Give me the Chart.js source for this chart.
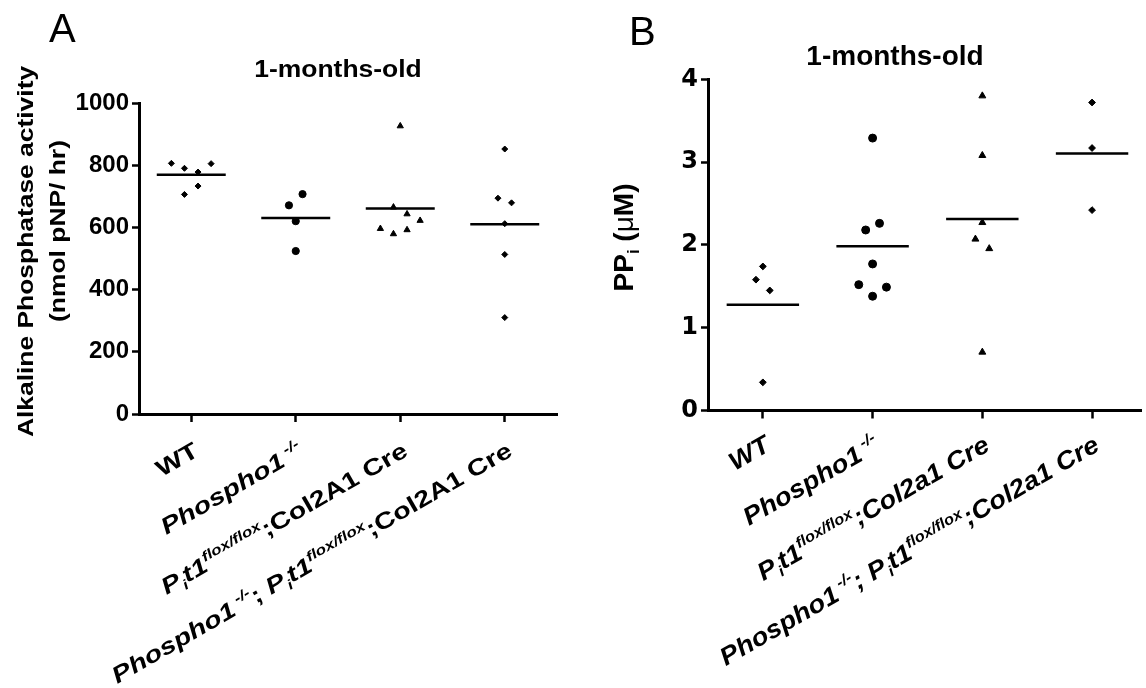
<!DOCTYPE html>
<html>
<head>
<meta charset="utf-8">
<title>1-months-old</title>
<script src="https://cdn.jsdelivr.net/npm/chart.js"></script>
<style>
    body {
        margin: 0;
        background: #fff;
        overflow: hidden;
    }
    .panel {
        position: absolute;
        top: 0;
        width: 573px;
        height: 688px;
    }
    #panelA { left: 0; }
    #panelB { left: 573px; }
</style>
</head>
<body>
<div class="panel" id="panelA"><canvas id="chartA" width="573" height="688"></canvas></div>
<div class="panel" id="panelB"><canvas id="chartB" width="573" height="688"></canvas></div>
<script>
    // marker per genotype, same order in both panels
    var groupStyles = ['rectRot', 'circle', 'triangle', 'rectRot'];

    // A: alkaline phosphatase activity (nmol pNP/ hr)
    var alpWT       = [806, 790, 778, 805, 706, 733];
    var alpPhospho1 = [707, 671, 620, 524];
    var alpPit1     = [926, 665, 643, 622, 596, 579, 592];
    var alpDouble   = [852, 694, 679, 612, 513, 310];
    // sideways spread of the dots inside a column (category units)
    var alpJitter = [
        [-0.19, -0.065, 0.065, 0.19, -0.065, 0.065],
        [0.065, -0.065, 0, 0],
        [0, -0.065, 0.065, 0.19, -0.19, -0.065, 0.065],
        [0, -0.065, 0.065, 0, 0, 0]
    ];

    // B: PPi (uM)
    var ppiWT       = [1.74, 1.58, 1.45, 0.34];
    var ppiPhospho1 = [3.29, 2.18, 2.26, 1.77, 1.52, 1.49, 1.38];
    var ppiPit1     = [3.80, 3.08, 2.27, 2.07, 1.955, 0.705];
    var ppiDouble   = [3.72, 3.17, 2.42];
    var ppiJitter = [
        [0, -0.063, 0.063, 0],
        [0, -0.063, 0.063, 0, -0.126, 0.126, 0],
        [0, 0, 0, -0.063, 0.063, 0],
        [0, 0, 0]
    ];

    // x tick labels (rich text pieces: i = italic, sup / sub)
    var labelsA = [
        [{t: 'WT'}],
        [{t: 'Phospho1', i: 1}, {t: ' -/-', sup: 1, i: 1}],
        [{t: 'P', i: 1}, {t: 'i', sub: 1, i: 1}, {t: 't1', i: 1}, {t: 'flox/flox', sup: 1, i: 1}, {t: ';Col2A1 Cre'}],
        [{t: 'Phospho1', i: 1}, {t: ' -/-', sup: 1, i: 1}, {t: '; '}, {t: 'P', i: 1}, {t: 'i', sub: 1, i: 1},
         {t: 't1', i: 1}, {t: 'flox/flox', sup: 1, i: 1}, {t: ';Col2A1 Cre'}]
    ];
    var labelsB = [
        [{t: 'WT', i: 1}],
        [{t: 'Phospho1', i: 1}, {t: ' -/-', sup: 1, i: 1}],
        [{t: 'P', i: 1}, {t: 'i', sub: 1, i: 1}, {t: 't1', i: 1}, {t: 'flox/flox', sup: 1, i: 1}, {t: ';Col2a1 Cre', i: 1}],
        [{t: 'Phospho1', i: 1}, {t: ' -/-', sup: 1, i: 1}, {t: '; ', i: 1}, {t: 'P', i: 1}, {t: 'i', sub: 1, i: 1},
         {t: 't1', i: 1}, {t: 'flox/flox', sup: 1, i: 1}, {t: ';Col2a1 Cre', i: 1}]
    ];

    var FAMILY = "'Liberation Sans', Arial, sans-serif";

    function drawRich(ctx, segs, x, y, o) {
        ctx.save();
        ctx.translate(x, y);
        ctx.rotate(o.angle || 0);
        ctx.scale(o.stretch || 1, 1);
        var parts = segs.map(function (s) {
            var size = o.size * (s.sup || s.sub ? 0.6 : 1);
            var font = (s.i ? 'italic ' : '') + (s.w || 'bold') + ' ' + size + 'px ' + FAMILY;
            ctx.font = font;
            return {t: s.t, font: font, w: ctx.measureText(s.t).width,
                    dy: s.sup ? -0.42 * o.size : (s.sub ? 0.22 * o.size : 0)};
        });
        var total = parts.reduce(function (a, p) { return a + p.w; }, 0);
        var cx = o.align === 'right' ? -total : (o.align === 'center' ? -total / 2 : 0);
        ctx.fillStyle = '#000';
        ctx.textAlign = 'left';
        ctx.textBaseline = 'alphabetic';
        parts.forEach(function (p) {
            ctx.font = p.font;
            ctx.fillText(p.t, cx, p.dy);
            cx += p.w;
        });
        ctx.restore();
    }

    function textPlugin(p) {
        return {
            id: 'figText',
            afterDraw: function (chart) {
                var ctx = chart.ctx;
                ctx.save();
                ctx.fillStyle = '#000';
                ctx.font = 'normal 40px ' + FAMILY;
                ctx.textBaseline = 'alphabetic';
                ctx.fillText(p.letter.t, p.letter.x, p.letter.y);
                ctx.restore();

                drawRich(ctx, [{t: p.title.t}], p.title.x, p.title.y,
                         {size: p.title.size, stretch: p.title.stretch, align: 'center'});

                p.yTitle.lines.forEach(function (l) {
                    drawRich(ctx, l.segs, l.x, l.y,
                             {size: p.yTitle.size, stretch: p.yTitle.stretch, align: 'center', angle: -Math.PI / 2});
                });

                var xs = chart.scales.x;
                p.labels.forEach(function (segs, i) {
                    drawRich(ctx, segs, xs.getPixelForValue(i) + p.lab.dx, chart.chartArea.bottom + p.lab.dy,
                             {size: p.lab.size, stretch: p.lab.stretch, align: 'right', angle: -Math.PI / 6});
                });
            }
        };
    }

    function meanLine(groups) {
        var pts = [];
        groups.forEach(function (vals, i) {
            var m = vals.reduce(function (a, b) { return a + b; }, 0) / vals.length;
            pts.push({x: i - 0.33, y: m}, {x: i + 0.33, y: m}, {x: i + 0.5, y: null});
        });
        return pts;
    }

    function makeChart(id, p) {
        var datasets = p.groups.map(function (vals, i) {
            return {
                type: 'scatter',
                data: vals.map(function (v, j) { return {x: i + p.jitter[i][j], y: v}; }),
                pointStyle: groupStyles[i],
                pointRadius: p.radius[i],
                pointHoverRadius: p.radius[i],
                pointBackgroundColor: '#000',
                pointBorderColor: '#000',
                pointBorderWidth: 1
            };
        });
        datasets.push({
            type: 'line',
            data: meanLine(p.groups),
            borderColor: '#000',
            borderWidth: 2.5,
            pointRadius: 0,
            spanGaps: false,
            fill: false
        });

        var axisGrid = {drawOnChartArea: false, drawTicks: true, tickWidth: 2.5, tickColor: '#000'};

        return new Chart(document.getElementById(id), {
            type: 'scatter',
            data: {datasets: datasets},
            options: {
                responsive: false,
                animation: false,
                events: [],
                layout: {padding: {top: p.area.top, right: 573 - p.area.right, left: 0, bottom: 0}},
                plugins: {legend: {display: false}, tooltip: {enabled: false}, title: {display: false}},
                scales: {
                    x: {
                        type: 'linear',
                        min: -0.5,
                        max: p.xMax,
                        afterBuildTicks: function (s) {
                            s.ticks = p.labels.map(function (_, i) { return {value: i}; });
                        },
                        afterFit: function (s) { s.height = 688 - p.area.bottom; },
                        ticks: {display: false},
                        grid: Object.assign({tickLength: 8}, axisGrid),
                        border: {display: true, color: '#000', width: 3}
                    },
                    y: {
                        min: 0,
                        max: p.yMax,
                        afterFit: function (s) { s.width = p.area.left; },
                        ticks: {
                            stepSize: p.yStep,
                            color: '#000',
                            padding: 3,
                            font: {family: p.tickFamily, weight: 'bold', size: p.tickSize},
                            callback: function (v) { return String(v); }
                        },
                        grid: Object.assign({tickLength: 7}, axisGrid),
                        border: {display: true, color: '#000', width: 3}
                    }
                }
            },
            plugins: [textPlugin(p)]
        });
    }

    makeChart('chartA', {
        groups: [alpWT, alpPhospho1, alpPit1, alpDouble],
        jitter: alpJitter,
        radius: [3, 3.6, 3.6, 3],
        labels: labelsA,
        area: {left: 139, top: 103, right: 557, bottom: 414},
        xMax: 3.5,
        yMax: 1000,
        yStep: 200,
        tickFamily: FAMILY,
        tickSize: 24,
        letter: {t: 'A', x: 49, y: 42},
        title: {t: '1-months-old', x: 338, y: 77, size: 23, stretch: 1.15},
        yTitle: {size: 22, stretch: 1.2, lines: [
            {segs: [{t: 'Alkaline Phosphatase activity'}], x: 33, y: 251.5},
            {segs: [{t: '(nmol pNP/ hr)'}], x: 65, y: 231}
        ]},
        lab: {size: 23, stretch: 1.25, dx: 9, dy: 41}
    });

    makeChart('chartB', {
        groups: [ppiWT, ppiPhospho1, ppiPit1, ppiDouble],
        jitter: ppiJitter,
        radius: [3.4, 4, 4, 3.4],
        labels: labelsB,
        area: {left: 135, top: 79.3, right: 573, bottom: 410.5},
        xMax: 3.446,
        yMax: 4,
        yStep: 1,
        tickFamily: "'DejaVu Sans', sans-serif",
        tickSize: 24,
        letter: {t: 'B', x: 56, y: 45},
        title: {t: '1-months-old', x: 322, y: 65, size: 28, stretch: 1},
        yTitle: {size: 28, stretch: 1, lines: [
            {segs: [{t: 'PP'}, {t: 'i', sub: 1}, {t: ' ('}, {t: '\u03bc', w: 'normal'}, {t: 'M'}, {t: ')'}], x: 60, y: 237.5}
        ]},
        lab: {size: 25, stretch: 1.1, dx: 9, dy: 39}
    });
</script>
</body>
</html>
